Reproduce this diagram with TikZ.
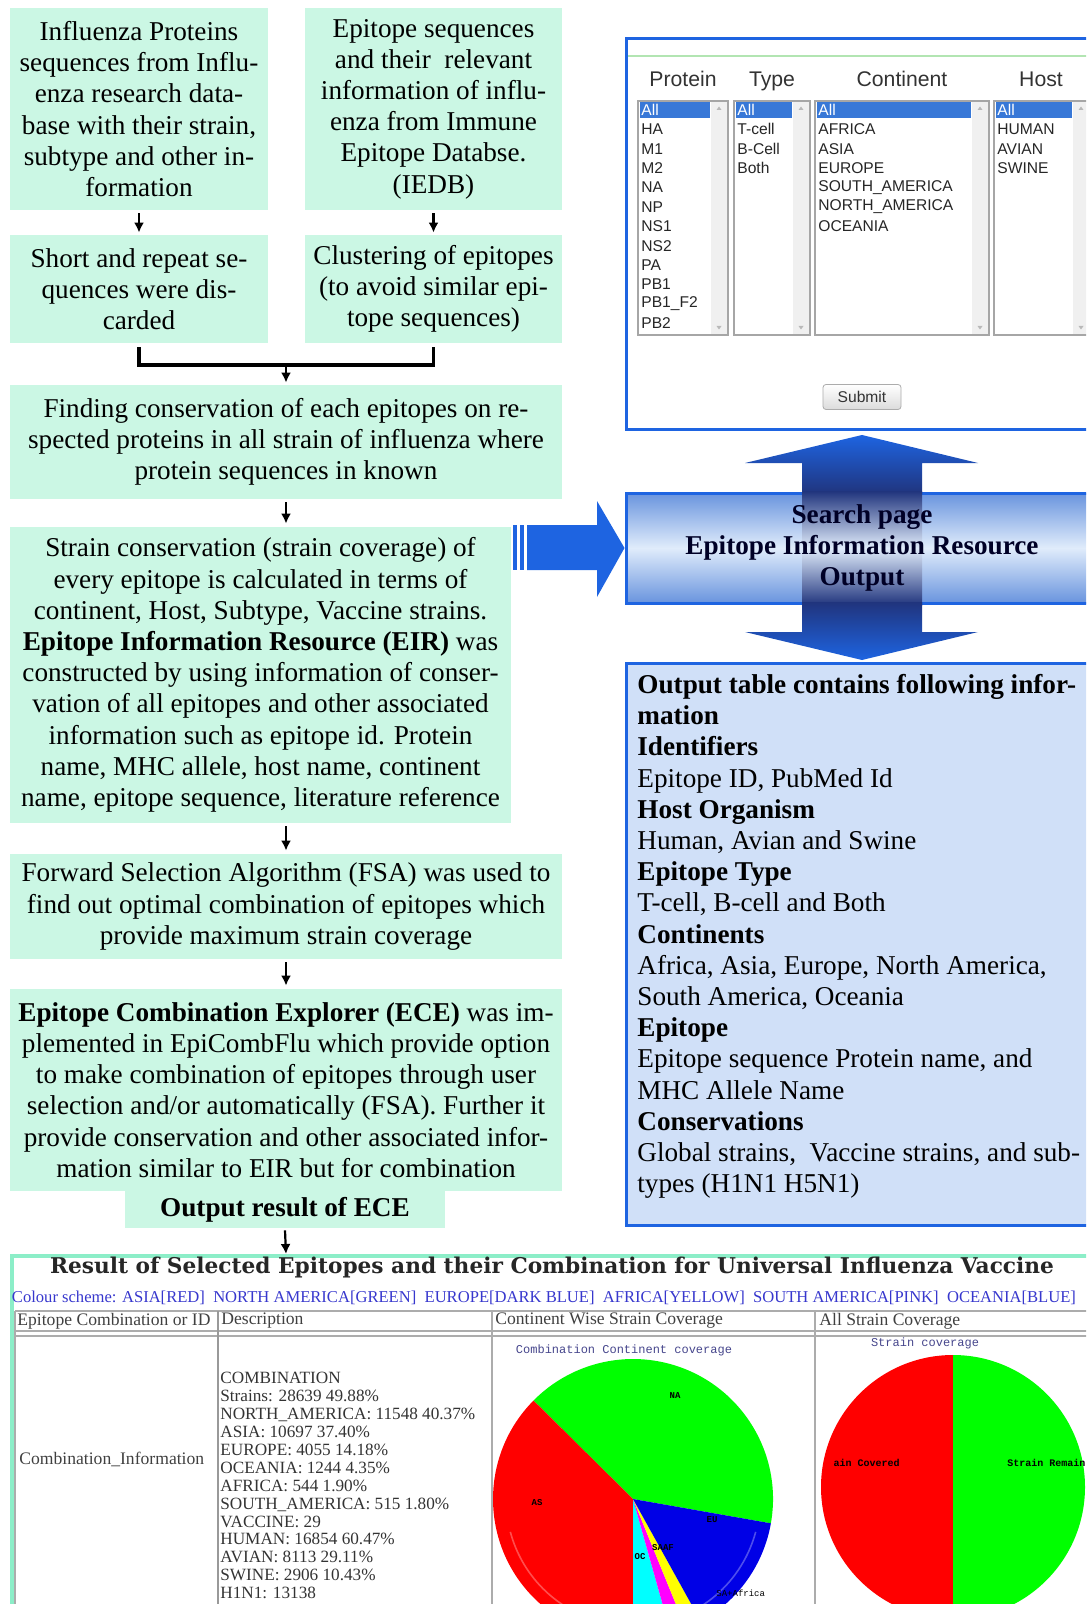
\documentclass[tikz,border=0pt]{standalone}
\usepackage{fontspec}
\usepackage{graphicx}
\setmainfont{Liberation Serif}
\newfontfamily\uisans{Liberation Sans}
\newfontfamily\chartmono{Liberation Mono}
\newfontfamily\webserif{DejaVu Serif}
\usetikzlibrary{arrows.meta,calc}

\definecolor{mint}{RGB}{203,247,228}
\definecolor{mintedge}{RGB}{140,238,200}
\definecolor{webblue}{RGB}{30,100,225}
\definecolor{panelblue}{RGB}{208,224,248}
\definecolor{bandlight}{RGB}{224,236,251}
\definecolor{bandmid}{RGB}{105,148,222}
\definecolor{navy}{RGB}{32,52,125}
\definecolor{selblue}{RGB}{56,120,215}
\definecolor{schemeblue}{RGB}{55,55,205}
\definecolor{charttitle}{RGB}{70,70,140}
\definecolor{pgreen}{RGB}{0,255,0}
\definecolor{pred}{RGB}{255,0,0}
\definecolor{pblue}{RGB}{0,0,230}
\definecolor{pcyan}{RGB}{0,255,255}
\definecolor{pmagenta}{RGB}{255,0,255}
\definecolor{pyellow}{RGB}{255,255,0}

\begin{document}
\begin{tikzpicture}[x=0.5pt, y=-0.5pt,
  flowbox/.style={fill=mint, inner sep=0pt, align=center, font=\fontsize{13.6}{15.6}\selectfont},
  flowarrow/.style={-{Latex[length=5pt,width=5pt]}, line width=1.1pt},
  bracketline/.style={line width=1.6pt},
  lbframe/.style={draw=gray!70, fill=white, line width=0.6pt},
  sbar/.style={fill=gray!12},
  hl/.style={fill=selblue},
  lbitem/.style={anchor=west, inner sep=0pt, font=\uisans\fontsize{7.8}{9}\selectfont, text=black!85},
  lbhead/.style={anchor=base, inner sep=0pt, font=\uisans\fontsize{10.6}{12}\selectfont, text=black!80},
  cellhead/.style={anchor=west, inner sep=0pt, font=\fontsize{8.8}{9}\selectfont, text=black!75},
  gridline/.style={draw=gray!65, line width=0.8pt},
  slicelabel/.style={font=\chartmono\bfseries\fontsize{4.5}{5}\selectfont, inner sep=0pt},
]
\useasboundingbox (0,0) rectangle (1086,1604);
\clip (0,0) rectangle (1086,1604);

% ---------------- left column: processing pipeline ----------------
\node[flowbox, minimum width=129pt, minimum height=101pt] (proteins) at (139,109)
  {Influenza Proteins\\sequences from Influ-\\enza research data-\\base with their strain,\\subtype and other in-\\formation};
\node[flowbox, minimum width=128.5pt, minimum height=101pt] (epitopes) at (433.5,109)
  {Epitope sequences\\and their\ \ relevant\\information of influ-\\enza from Immune\\Epitope Databse.\\(IEDB)};
\node[flowbox, minimum width=129pt, minimum height=54pt] (discard) at (139,289)
  {Short and repeat se-\\quences were dis-\\carded};
\node[flowbox, minimum width=128.5pt, minimum height=54pt] (cluster) at (433.5,289)
  {Clustering of epitopes\\(to avoid similar epi-\\tope sequences)};
\node[flowbox, minimum width=276pt, minimum height=57pt] (conserv) at (286,442)
  {Finding conservation of each epitopes on re-\\spected proteins in all strain of influenza where\\protein sequences in known};
\node[flowbox, minimum width=250.5pt, minimum height=148pt] (eir) at (260.5,675)
  {Strain conservation (strain coverage) of\\every epitope is calculated in terms of\\continent, Host, Subtype, Vaccine strains.\\\textbf{Epitope Information Resource (EIR)} was\\constructed by using information of conser-\\vation of all epitopes and other associated\\information such as epitope id. Protein\\name, MHC allele, host name, continent\\name, epitope sequence, literature reference};
\node[flowbox, minimum width=276pt, minimum height=52.5pt] (fsa) at (286,906.5)
  {Forward Selection Algorithm (FSA) was used to\\find out optimal combination of epitopes which\\provide maximum strain coverage};
\node[flowbox, minimum width=276pt, minimum height=101pt] (ece) at (286,1090)
  {\textbf{Epitope Combination Explorer (ECE)} was im-\\plemented in EpiCombFlu which provide option\\to make combination of epitopes through user\\selection and/or automatically (FSA). Further it\\provide conservation and other associated infor-\\mation similar to EIR but for combination};
\node[flowbox, minimum width=160pt, minimum height=18.5pt] (eceout) at (285,1209.5)
  {\textbf{Output result of ECE}};

\draw[flowarrow] ($(proteins.south)+(0,3)$) -- ($(discard.north)+(0,-2)$);
\draw[flowarrow] ($(epitopes.south)+(0,3)$) -- ($(cluster.north)+(0,-2)$);
\coordinate (joinL) at (139,365);
\coordinate (joinR) at (433.5,365);
\coordinate (joinM) at (286,365);
\draw[bracketline] ($(discard.south)+(0,4)$) -- (joinL) -- (joinR) -- ($(cluster.south)+(0,4)$);
\draw[flowarrow] (joinM) -- ($(conserv.north)+(0,-2)$);
\draw[flowarrow] ($(conserv.south)+(0,3)$) -- ($(conserv.south |- eir.north)+(0,-3)$);
\draw[flowarrow] ($(conserv.south |- eir.south)+(0,3)$) -- ($(fsa.north)+(0,-3)$);
\draw[flowarrow] ($(fsa.south)+(0,3)$) -- ($(ece.north)+(0,-3)$);
\coordinate (resulttop) at (286,1254);
\draw[flowarrow] ($(eceout.south)+(0,2)$) -- (resulttop);

% ---------------- search page form ----------------
\node[draw=webblue, line width=1.5pt, fill=white, minimum width=233pt, minimum height=195.5pt, inner sep=0pt] (search) at (859,234.5) {};
\draw[gray!50!green!40, line width=0.8pt] (628,56) -- (1090,56);

\node[lbhead] (hprot) at (683,87) {Protein};
\node[lbhead] (htype) at (772,87) {Type};
\node[lbhead] (hcont) at (902,87) {Continent};
\node[lbhead] (hhost) at (1041,87) {Host};

\foreach \xa/\xb in {638/728, 734/810, 815/989, 994/1090}{
  \draw[lbframe] (\xa,101) rectangle (\xb,335);
  \fill[sbar] (\xb-17,102) rectangle (\xb-1,334);
  \fill[gray!55] (\xb-11.5,110) -- (\xb-6.5,110) -- (\xb-9,106.5) -- cycle;
  \fill[gray!55] (\xb-11.5,326) -- (\xb-6.5,326) -- (\xb-9,329.5) -- cycle;
  \fill[hl] (\xa+2,102) rectangle (\xb-18,118);
  \node[lbitem, text=white] at (\xa+3,110) {All};
}
\foreach \t [count=\i] in {HA,M1,M2,NA,NP,NS1,NS2,PA,PB1,PB1\_F2,PB2}
  \node[lbitem] at (641,110+19.4*\i) {\t};
\foreach \t [count=\i] in {T-cell,B-Cell,Both}
  \node[lbitem] at (737,110+19.4*\i) {\t};
\foreach \t [count=\i] in {AFRICA,ASIA,EUROPE,SOUTH\_AMERICA,NORTH\_AMERICA,OCEANIA}
  \node[lbitem] at (818,110+19.4*\i) {\t};
\foreach \t [count=\i] in {HUMAN,AVIAN,SWINE}
  \node[lbitem] at (997,110+19.4*\i) {\t};

\node[draw=gray!65, rounded corners=1.5pt, top color=white, bottom color=gray!28,
      minimum width=39pt, minimum height=12.5pt, inner sep=0pt,
      font=\uisans\fontsize{7.8}{9}\selectfont, text=black!80] (submit) at (862,397) {Submit};

% ---------------- search / output band with double arrow ----------------
\node[minimum width=233pt, minimum height=55pt, inner sep=0pt, draw=webblue, line width=1.5pt,
      top color=bandmid, bottom color=bandmid, middle color=bandlight] (band) at (859,548) {};
\shade[top color=webblue, bottom color=navy]
  (862,435) -- (978,463) -- (922,463) -- (922,494) -- (802,494) -- (802,463) -- (745,463) -- cycle;
\shade[top color=navy, bottom color=bandlight] (802,491) rectangle (922,548);
\shade[top color=bandlight, bottom color=navy] (802,548) rectangle (922,605);
\shade[top color=navy, bottom color=webblue]
  (802,602) -- (922,602) -- (922,632) -- (978,632) -- (862,660) -- (745,632) -- (802,632) -- cycle;
\node[align=center, inner sep=0pt, font=\bfseries\fontsize{13.6}{15.6}\selectfont, text=black!85!blue] (bandtext) at (862,548)
  {Search page\\Epitope Information Resource\\Output};

% block arrow from the EIR step into the band
\fill[webblue] (513,525) rectangle (517,570);
\fill[webblue] (520,525) rectangle (524,570);
\fill[webblue] (527,525) -- (597,525) -- (597,501) -- (band.west) -- (597,597) -- (597,570) -- (527,570) -- cycle;

% ---------------- output table description ----------------
\node[draw=webblue, line width=1.5pt, fill=panelblue, minimum width=233pt, minimum height=281pt, inner sep=0pt] (outbox) at (859,944) {};
\node[anchor=north west, align=left, inner sep=0pt, font=\fontsize{13.6}{15.6}\selectfont] (outtext) at (637,674)
  {\textbf{Output table contains following infor-}\\\textbf{mation}\\\textbf{Identifiers}\\Epitope ID, PubMed Id\\\textbf{Host Organism}\\Human, Avian and Swine\\\textbf{Epitope Type}\\T-cell, B-cell and Both\\\textbf{Continents}\\Africa, Asia, Europe, North America,\\South America, Oceania\\\textbf{Epitope}\\Epitope sequence Protein name, and\\MHC Allele Name\\\textbf{Conservations}\\Global strains,\ \ Vaccine strains, and sub-\\types (H1N1 H5N1)};

% ---------------- result web page ----------------
\draw[mintedge, line width=2pt] (10,1256) -- (1092,1256);
\draw[mintedge, line width=2pt] (12,1256) -- (12,1610);
\node[inner sep=0pt] (restitle) at (552,1268)
  {\resizebox{502pt}{!}{\webserif\bfseries\color{black!85}Result of Selected Epitopes and their Combination for Universal Influenza Vaccine}};
\node[inner sep=0pt] (scheme) at (544,1298)
  {\resizebox{532pt}{!}{\color{schemeblue}Colour scheme: ASIA[RED]\ \ NORTH AMERICA[GREEN]\ \ EUROPE[DARK BLUE]\ \ AFRICA[YELLOW]\ \ SOUTH AMERICA[PINK]\ \ OCEANIA[BLUE]}};

\draw[gridline] (15,1311) -- (1092,1311);
\draw[gridline] (15,1331) -- (1092,1331);
\draw[gridline] (15,1336) -- (1092,1336);
\foreach \xc in {15,492,815} \draw[gridline] (\xc,1311) -- (\xc,1610);
\draw[draw=gray!80, line width=1pt] (218,1311) -- (218,1610);

\node[cellhead] (hcomb) at (17,1321) {Epitope Combination or ID};
\node[cellhead] (hdesc) at (221,1321) {Description};
\node[cellhead] (hcwsc) at (495,1321) {Continent Wise Strain Coverage};
\node[cellhead] (hasc) at (819,1321) {All Strain Coverage};

\node[cellhead] (combo) at (19,1459) {Combination\_Information};
\node[anchor=north west, align=left, inner sep=0pt, font=\fontsize{8.6}{8.95}\selectfont, text=black!80] (desc) at (220,1372)
  {COMBINATION\\Strains: 28639 49.88\%\\NORTH\_AMERICA: 11548 40.37\%\\ASIA: 10697 37.40\%\\EUROPE: 4055 14.18\%\\OCEANIA: 1244 4.35\%\\AFRICA: 544 1.90\%\\SOUTH\_AMERICA: 515 1.80\%\\VACCINE: 29\\HUMAN: 16854 60.47\%\\AVIAN: 8113 29.11\%\\SWINE: 2906 10.43\%\\H1N1: 13138};

% continent pie chart
\node[inner sep=0pt, font=\chartmono\fontsize{6}{7}\selectfont, text=charttitle] (pie1title) at (624,1350) {Combination Continent coverage};
\begin{scope}[shift={(633,1499)}, x=0.5pt, y=0.5pt]
  \fill[pgreen] (0,0) -- (-10:140) arc[start angle=-10, end angle=135.3, radius=140] -- cycle;
  \fill[pred] (0,0) -- (135.3:140) arc[start angle=135.3, end angle=270, radius=140] -- cycle;
  \fill[pcyan] (0,0) -- (270:140) arc[start angle=270, end angle=285.7, radius=140] -- cycle;
  \fill[pmagenta] (0,0) -- (285.7:140) arc[start angle=285.7, end angle=292.2, radius=140] -- cycle;
  \fill[pyellow] (0,0) -- (292.2:140) arc[start angle=292.2, end angle=299, radius=140] -- cycle;
  \fill[pblue] (0,0) -- (299:140) arc[start angle=299, end angle=350, radius=140] -- cycle;
  \draw[white, opacity=0.3, line width=0.8pt] (195:127) arc[start angle=195, end angle=345, radius=127];
\end{scope}
\node[slicelabel] (lna) at (675,1396) {NA};
\node[slicelabel] (las) at (537,1503) {AS};
\node[slicelabel] (leu) at (712,1520) {EU};
\node[slicelabel] (loc) at (640,1557) {OC};
\node[slicelabel] (lsa) at (663,1548) {SAAF};
\node[slicelabel, anchor=west, font=\chartmono\fontsize{4.5}{5}\selectfont] (lnote) at (716,1593) {SA+Africa};

% overall coverage pie chart
\node[inner sep=0pt, font=\chartmono\fontsize{6}{7}\selectfont, text=charttitle] (pie2title) at (925,1343) {Strain coverage};
\begin{scope}[shift={(953,1487)}, x=0.5pt, y=0.5pt]
  \clip (-132,-200) rectangle (200,200);
  \fill[pred] (0,0) -- (90:132) arc[start angle=90, end angle=270, radius=132] -- cycle;
  \fill[pgreen] (0,0) -- (-90:132) arc[start angle=-90, end angle=90, radius=132] -- cycle;
  \node[slicelabel, font=\chartmono\bfseries\fontsize{5}{6}\selectfont, anchor=east] (lcov) at (-53,24) {ain Covered};
  \node[slicelabel, font=\chartmono\bfseries\fontsize{5}{6}\selectfont, anchor=west] (lrem) at (54,24) {Strain Remain};
\end{scope}
\end{tikzpicture}
\end{document}
